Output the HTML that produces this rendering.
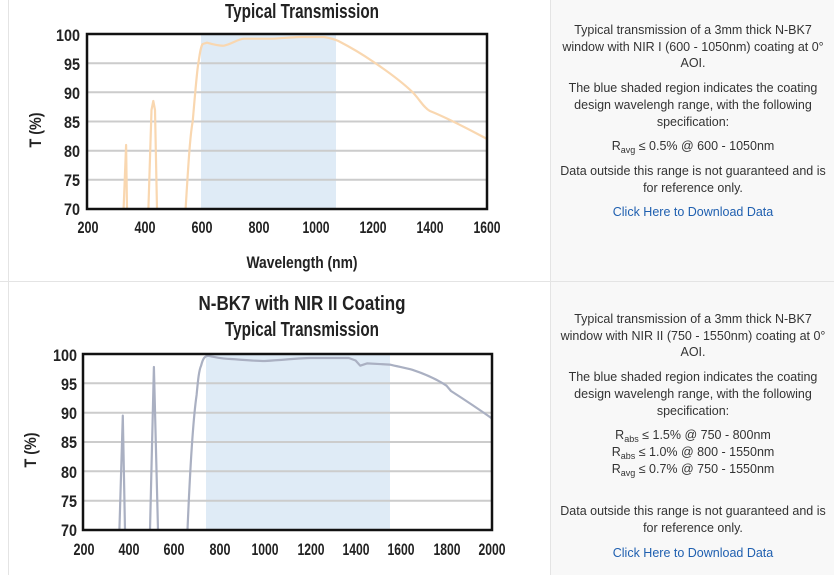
<!DOCTYPE html>
<html><head><meta charset="utf-8"><style>
body{margin:0;width:834px;height:575px;overflow:hidden;background:#fff;font-family:"Liberation Sans",sans-serif;position:relative}
.rc{position:absolute;left:550px;width:284px;background:#f8f8f8;border-left:1px solid #e4e4e4;text-align:center;font-size:12.5px;color:#333;line-height:16.7px}
.rc p{margin:0 0 8px 0;padding:0 9px}
.rc a{color:#2060b0;text-decoration:none}
sub{font-size:9px;vertical-align:-3px;line-height:0}
</style></head><body>
<div style="position:absolute;left:8px;top:0;width:1px;height:575px;background:#e4e4e4"></div>
<div style="position:absolute;left:0;top:281px;width:834px;height:1px;background:#e4e4e4"></div>
<div class="rc" style="top:0;height:281px">
<p style="margin-top:22px">Typical transmission of a 3mm thick N-BK7 window with NIR I (600 - 1050nm) coating at 0° AOI.</p>
<p>The blue shaded region indicates the coating design wavelengh range, with the following specification:</p>
<p>R<sub>avg</sub> ≤ 0.5% @ 600 - 1050nm</p>
<p>Data outside this range is not guaranteed and is for reference only.</p>
<p><a>Click Here to Download Data</a></p>
</div>
<div class="rc" style="top:282px;height:293px">
<p style="margin-top:29px">Typical transmission of a 3mm thick N-BK7 window with NIR II (750 - 1550nm) coating at 0° AOI.</p>
<p>The blue shaded region indicates the coating design wavelengh range, with the following specification:</p>
<p style="margin-bottom:26px">R<sub>abs</sub> ≤ 1.5% @ 750 - 800nm<br>R<sub>abs</sub> ≤ 1.0% @ 800 - 1550nm<br>R<sub>avg</sub> ≤ 0.7% @ 750 - 1550nm</p>
<p>Data outside this range is not guaranteed and is for reference only.</p>
<p><a>Click Here to Download Data</a></p>
</div>
<svg width="550" height="575" style="position:absolute;left:0;top:0" font-family="'Liberation Sans',sans-serif" font-weight="bold" fill="#222">
<text x="302" y="18" text-anchor="middle" font-size="20" textLength="154" lengthAdjust="spacingAndGlyphs">Typical Transmission</text>
<rect x="201" y="34" width="135" height="175" fill="#dfebf6"/>
<g stroke="#ccc" stroke-width="2">
<line x1="87" x2="487" y1="63.2" y2="63.2"/><line x1="87" x2="487" y1="92.3" y2="92.3"/><line x1="87" x2="487" y1="121.5" y2="121.5"/><line x1="87" x2="487" y1="150.7" y2="150.7"/><line x1="87" x2="487" y1="179.8" y2="179.8"/>
</g>
<g fill="none" stroke="#f9d7b0" stroke-width="2.2" stroke-linejoin="round">
<path d="M123.6,209 L126.1,145 L127,209"/>
<path d="M148.4,209 L151.5,110 L153.3,101 L155,110 L157,209"/>
<path d="M185.6,209 C188,170 190,135 192.7,121.5 C195,95 197,70 198.4,63 C200,52 201,46 202.7,44 L207,42.7 C215,45 220,46 224,45.7 C232,44 238,39 244,38.7 L272.7,38.7 C285,38 295,37 301,37 L324,37 C330,38 334,39 338.4,41 C350,47 362,54 372.7,61.4 C390,73 402,82 412.7,92.3 C420,100 424,108 429.9,111 C450,119 470,130 487,139"/>
</g>
<rect x="87" y="34" width="400" height="175" fill="none" stroke="#111" stroke-width="2.5"/>
<g font-size="17" text-anchor="end" lengthAdjust="spacingAndGlyphs">
<text x="80" y="41" textLength="24" lengthAdjust="spacingAndGlyphs">100</text><text x="80" y="70" textLength="16" lengthAdjust="spacingAndGlyphs">95</text><text x="80" y="99" textLength="16" lengthAdjust="spacingAndGlyphs">90</text><text x="80" y="128" textLength="16" lengthAdjust="spacingAndGlyphs">85</text><text x="80" y="157" textLength="16" lengthAdjust="spacingAndGlyphs">80</text><text x="80" y="186" textLength="16" lengthAdjust="spacingAndGlyphs">75</text><text x="80" y="215" textLength="16" lengthAdjust="spacingAndGlyphs">70</text>
</g>
<g font-size="17" text-anchor="middle">
<text x="88" y="233" textLength="21" lengthAdjust="spacingAndGlyphs">200</text><text x="145" y="233" textLength="21" lengthAdjust="spacingAndGlyphs">400</text><text x="202" y="233" textLength="21" lengthAdjust="spacingAndGlyphs">600</text><text x="259" y="233" textLength="21" lengthAdjust="spacingAndGlyphs">800</text><text x="316" y="233" textLength="27" lengthAdjust="spacingAndGlyphs">1000</text><text x="373" y="233" textLength="27" lengthAdjust="spacingAndGlyphs">1200</text><text x="430" y="233" textLength="27" lengthAdjust="spacingAndGlyphs">1400</text><text x="487" y="233" textLength="27" lengthAdjust="spacingAndGlyphs">1600</text>
</g>
<text x="302" y="268" text-anchor="middle" font-size="17" textLength="111" lengthAdjust="spacingAndGlyphs">Wavelength (nm)</text>
<text transform="translate(41,130) rotate(-90)" text-anchor="middle" font-size="17" textLength="35" lengthAdjust="spacingAndGlyphs">T (%)</text>

<text x="302" y="310" text-anchor="middle" font-size="20" textLength="207" lengthAdjust="spacingAndGlyphs">N-BK7 with NIR II Coating</text>
<text x="302" y="336" text-anchor="middle" font-size="20" textLength="154" lengthAdjust="spacingAndGlyphs">Typical Transmission</text>
<rect x="206" y="354" width="184" height="176" fill="#dfebf6"/>
<g stroke="#ccc" stroke-width="2">
<line x1="83" x2="492" y1="383.3" y2="383.3"/><line x1="83" x2="492" y1="412.7" y2="412.7"/><line x1="83" x2="492" y1="442" y2="442"/><line x1="83" x2="492" y1="471.3" y2="471.3"/><line x1="83" x2="492" y1="500.7" y2="500.7"/>
</g>
<g fill="none" stroke="#aab0c2" stroke-width="2.2" stroke-linejoin="round">
<path d="M119.4,530 L122.8,415.6 L125,530"/>
<path d="M150,530 L153.9,367 L158,530"/>
<path d="M187.5,530 C190,470 193,420 196.6,395 C198,380 199,370 201.1,365.7 C203,358 205,356 208,355.8 C215,357 222,359 230.7,359 C245,360 255,361 264.8,361 C285,360 298,358 310,358 L348.8,358 L355.6,360.5 L360.2,365.7 L367,363.4 L389.7,364.6 C400,367 406,368 412.4,369.8 C428,375 438,380 446.5,385.7 L451,391 C465,400 480,410 492,418.5"/>
</g>
<rect x="83" y="354" width="409" height="176" fill="none" stroke="#111" stroke-width="2.5"/>
<g font-size="17" text-anchor="end">
<text x="77" y="361" textLength="24" lengthAdjust="spacingAndGlyphs">100</text><text x="77" y="390" textLength="16" lengthAdjust="spacingAndGlyphs">95</text><text x="77" y="419" textLength="16" lengthAdjust="spacingAndGlyphs">90</text><text x="77" y="448" textLength="16" lengthAdjust="spacingAndGlyphs">85</text><text x="77" y="478" textLength="16" lengthAdjust="spacingAndGlyphs">80</text><text x="77" y="507" textLength="16" lengthAdjust="spacingAndGlyphs">75</text><text x="77" y="536" textLength="16" lengthAdjust="spacingAndGlyphs">70</text>
</g>
<g font-size="17" text-anchor="middle">
<text x="84" y="555" textLength="21" lengthAdjust="spacingAndGlyphs">200</text><text x="129" y="555" textLength="21" lengthAdjust="spacingAndGlyphs">400</text><text x="174" y="555" textLength="21" lengthAdjust="spacingAndGlyphs">600</text><text x="220" y="555" textLength="21" lengthAdjust="spacingAndGlyphs">800</text><text x="265" y="555" textLength="27" lengthAdjust="spacingAndGlyphs">1000</text><text x="311" y="555" textLength="27" lengthAdjust="spacingAndGlyphs">1200</text><text x="356" y="555" textLength="27" lengthAdjust="spacingAndGlyphs">1400</text><text x="401" y="555" textLength="27" lengthAdjust="spacingAndGlyphs">1600</text><text x="447" y="555" textLength="27" lengthAdjust="spacingAndGlyphs">1800</text><text x="492" y="555" textLength="27" lengthAdjust="spacingAndGlyphs">2000</text>
</g>
<text transform="translate(36,450) rotate(-90)" text-anchor="middle" font-size="17" textLength="35" lengthAdjust="spacingAndGlyphs">T (%)</text>
</svg>
</body></html>
